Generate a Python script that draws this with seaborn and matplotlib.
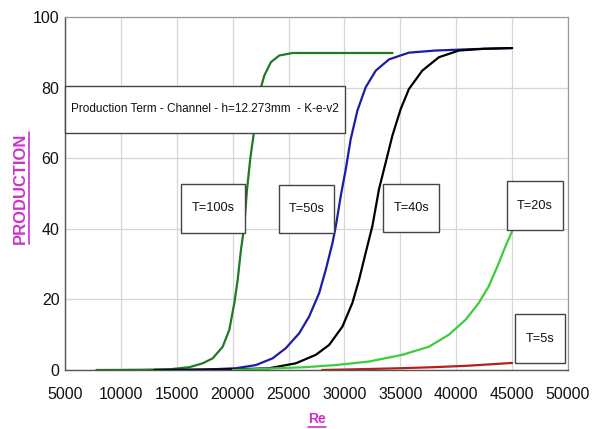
import matplotlib
matplotlib.use("Agg")
import matplotlib.pyplot as plt
from matplotlib.patches import Rectangle
from matplotlib.lines import Line2D
import seaborn as sns
import pandas as pd

# ---- data ----
re_100 = [7800, 10000, 12000, 14350, 16130, 17320, 18210, 19110, 19700, 20150, 20450, 20740,
          21040, 21280, 21580, 21930, 22320, 22830, 23420, 24170, 25360, 28000, 31000, 34300]
p_100 = [0, 0.02, 0.08, 0.2, 0.8, 1.9, 3.3, 6.6, 11.4, 19, 25.6, 34, 40.8, 51, 60, 68, 77.7,
         83.4, 87.2, 89.1, 89.8, 89.8, 89.8, 89.8]

re_50 = [13000, 16000, 18500, 20300, 22080, 23570, 24760, 25950, 26850, 27740, 28330, 28930,
         29230, 29670, 30120, 30560, 31160, 31900, 32800, 33990, 35770, 38150, 41500, 45000]
p_50 = [0, 0.1, 0.25, 0.5, 1.4, 3.3, 6.2, 10.4, 15.2, 21.8, 28.4, 36, 40.8, 49.3, 56.9, 65.4,
        73.5, 80.1, 84.8, 88, 89.9, 90.5, 90.9, 91.2]

re_40 = [13000, 17000, 20500, 23270, 25650, 27440, 28630, 29820, 30710, 31310, 31900, 32500,
         33090, 33690, 34290, 35030, 35770, 36960, 38450, 40240, 42500, 45000]
p_40 = [0, 0.05, 0.2, 0.5, 1.9, 4.3, 7.1, 12.3, 19, 25.6, 33.2, 40.8, 51.2, 58.8, 66.4, 73.9,
        79.6, 84.8, 88.6, 90.5, 91.0, 91.2]

re_20 = [20000, 23270, 26500, 29230, 32200, 35180, 37560, 39340, 40830, 42020, 42910, 43810,
         44400, 45000]
p_20 = [0, 0.4, 0.8, 1.4, 2.4, 4.3, 6.6, 10, 14.2, 19, 23.7, 30.3, 35, 39.3]

re_5 = [28000, 31000, 35000, 38000, 41000, 43000, 45000]
p_5 = [0, 0.2, 0.5, 0.8, 1.2, 1.6, 2.0]

series_names = ["T=100s", "T=50s", "T=40s", "T=20s", "T=5s"]
series_colors = ["#1e7a25", "#1c1ca8", "#000000", "#3ccc3c", "#b81e1e"]
x_ticks = [5000, 10000, 15000, 20000, 25000, 30000, 35000, 40000, 45000, 50000]
y_ticks = [0, 20, 40, 60, 80, 100]
title_text = "Production Term - Channel - h=12.273mm  - K-e-v2"
x_label = "Re"
y_label = "PRODUCTION"

frames = []
for name, xs, ys in zip(series_names, [re_100, re_50, re_40, re_20, re_5],
                        [p_100, p_50, p_40, p_20, p_5]):
    frames.append(pd.DataFrame({"Re": xs, "P": ys, "series": name}))
df = pd.concat(frames, ignore_index=True)

sns.set_theme(style="whitegrid")
fam = ["Liberation Sans", "DejaVu Sans"]
plt.rcParams["font.family"] = fam

fig = plt.figure(figsize=(5.95, 4.29), dpi=100)
W, H = 595, 429
ax = fig.add_axes([65 / W, 1 - 370 / H, (568 - 65) / W, (370 - 17) / H])

sns.lineplot(data=df, x="Re", y="P", hue="series", palette=dict(zip(series_names, series_colors)),
             hue_order=series_names, sort=False, estimator=None, linewidth=1.6,
             legend=False, ax=ax)

ax.set_xlim(5000, 50000)
ax.set_ylim(0, 100)
ax.set_xticks(x_ticks)
ax.set_yticks(y_ticks)
ax.set_xticklabels([str(v) for v in x_ticks])
ax.set_yticklabels([str(v) for v in y_ticks])
ax.tick_params(axis="both", length=0, labelsize=11.5, colors="#111111")
ax.tick_params(axis="x", pad=12)
ax.tick_params(axis="y", pad=4)
ax.set_xlabel("")
ax.set_ylabel("")
ax.grid(True, color="#d6d6d6", linewidth=0.9)
for side in ["top", "right"]:
    ax.spines[side].set_color("#9a9a9a")
    ax.spines[side].set_linewidth(0.9)
for side in ["left", "bottom"]:
    ax.spines[side].set_color("#555555")
    ax.spines[side].set_linewidth(1.0)

# axis labels (magenta, bold, underlined)
lab_color = "#cc33cc"
xl = fig.text(317 / W, 1 - 419 / H, x_label, color=lab_color, fontsize=10,
              fontweight="bold", ha="center", va="center")
yl = fig.text(20 / W, 1 - 188 / H, y_label, color=lab_color, fontsize=12,
              fontweight="bold", ha="center", va="center", rotation=90)
fig.canvas.draw()
r = fig.canvas.get_renderer()
bx = xl.get_window_extent(r)
fig.add_artist(Line2D([bx.x0 / W, bx.x1 / W], [(bx.y0 - 1.0) / H] * 2,
                      transform=fig.transFigure, color=lab_color, linewidth=1.2))
by = yl.get_window_extent(r)
fig.add_artist(Line2D([(by.x1 + 1.0) / W] * 2, [by.y0 / H, by.y1 / H],
                      transform=fig.transFigure, color=lab_color, linewidth=1.2))

# title box
ax.add_patch(Rectangle((5000, 67.1), 25090, 13.4, facecolor="white", edgecolor="#444444",
                       linewidth=1.0, zorder=5, clip_on=False))
ax.text(5550, 73.8, title_text, fontsize=8.5, ha="left", va="center", zorder=6,
        color="#111111")

# T boxes: (x0, y0, w, h, text x, text y)
box_specs = [
    (15360, 38.8, 5710, 13.9, 18220, 45.8),
    (24110, 38.8, 5000, 13.6, 26610, 45.6),
    (33490, 39.1, 5000, 13.6, 35990, 45.9),
    (44560, 39.7, 5000, 13.8, 47060, 46.6),
    (45270, 2.0, 4470, 13.9, 47500, 8.9),
]
for name, (x0, y0, w, h, tx, ty) in zip(series_names, box_specs):
    ax.add_patch(Rectangle((x0, y0), w, h, facecolor="white", edgecolor="#444444",
                           linewidth=1.0, zorder=5))
    ax.text(tx, ty, name, fontsize=9.2, ha="center", va="center", zorder=6,
            color="#111111")

fig.savefig("out.png", dpi=100)
